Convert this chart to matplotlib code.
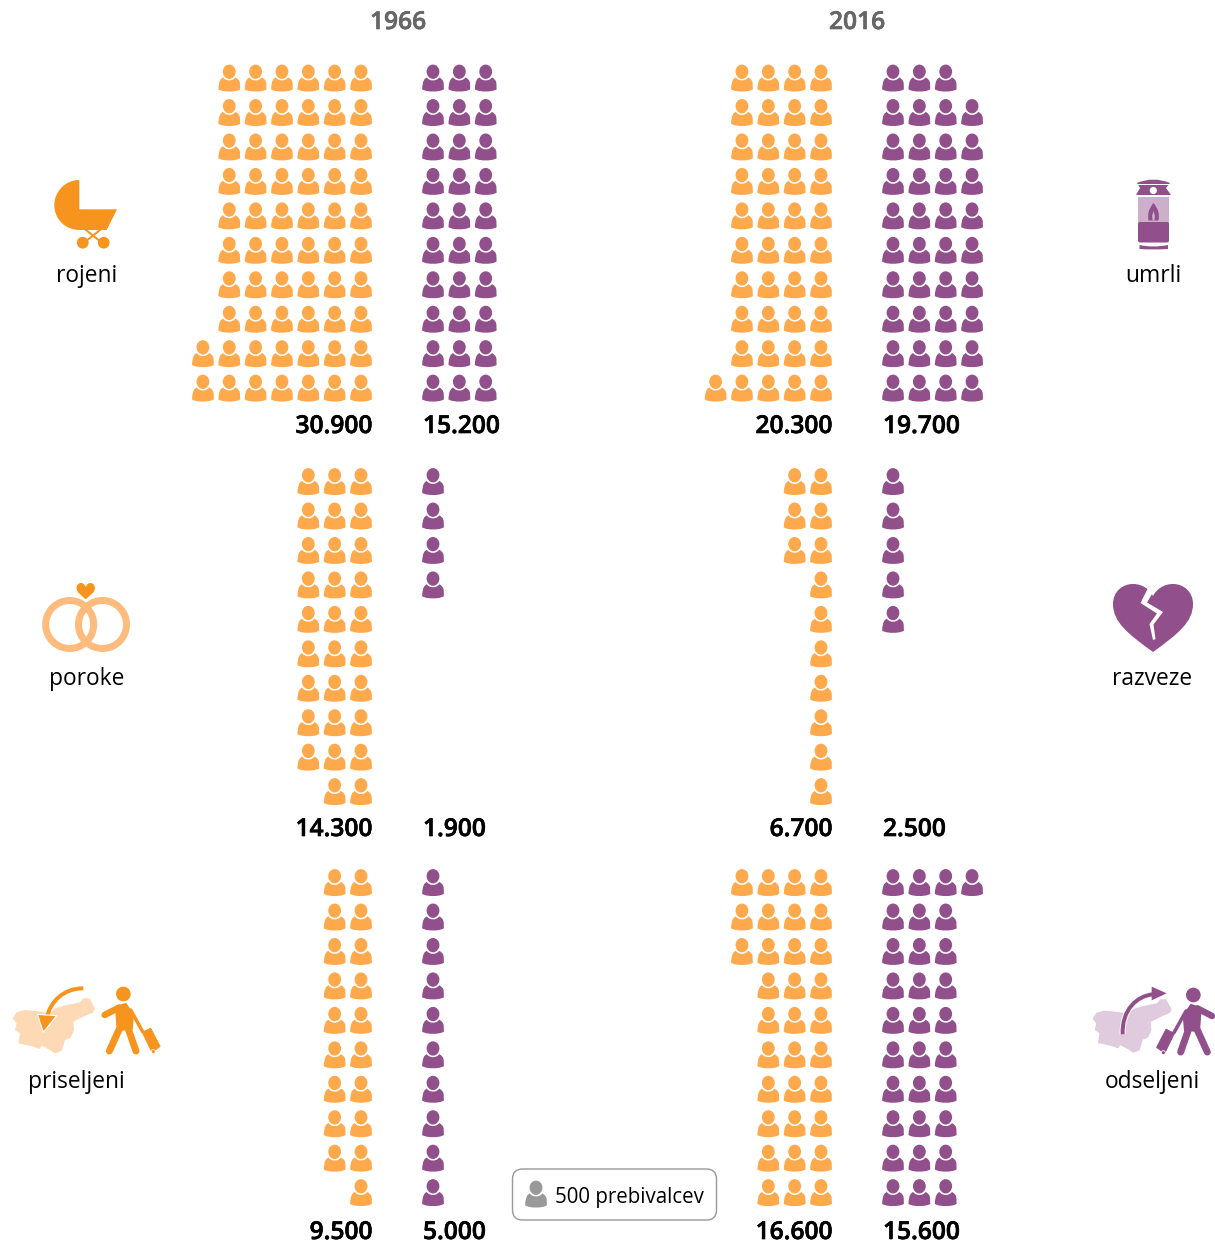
import matplotlib

matplotlib.use("Agg")
from matplotlib import pyplot as plt
from matplotlib import patheffects
from matplotlib.path import Path
from matplotlib.patches import PathPatch, Circle, Annulus, Polygon, FancyBboxPatch, Rectangle
from matplotlib.transforms import Affine2D

plt.rcParams['font.family'] = ['Open Sans', 'DejaVu Sans']

ORANGE = '#F7941D'
ORANGE_ICON = '#FDA94C'
ORANGE_LIGHT = '#FDBB7D'
ORANGE_MAP = '#FDD9B5'
PURPLE = '#91508C'
PURPLE_LIGHT = '#CDAECB'
PURPLE_MAP = '#E0CADD'

# data
years = ['1966', '2016']
left_labels = ['rojeni', 'poroke', 'priseljeni']
right_labels = ['umrli', 'razveze', 'odseljeni']
left_1966 = [30900, 14300, 9500]
right_1966 = [15200, 1900, 5000]
left_2016 = [20300, 6700, 16600]
right_2016 = [19700, 2500, 15600]
people_per_icon = 500
rows_per_column = 10

# layout, in pixels of the final picture
W, H = 1215, 1244
COL_STEP = 26.35
ROW_STEP = 34.45
block_top = [78, 481.5, 882.5]
number_y = [433, 836, 1239]
label_y = [282, 685, 1088]
left_x = [87, 87, 76]
right_x = [1153.5, 1152, 1152]
orange_x = [361, 821]
purple_x = [433, 893]
year_x = [398, 857]

# one little person, centred on 0,0 with y going down
PERSON = Path(
    [(0, -13.4), (3.7, -13.4), (6.4, -10.2), (6.4, -6.4),
     (6.4, -2.6), (3.7, 0.9), (0, 0.9), (-3.7, 0.9), (-6.4, -2.6), (-6.4, -6.4),
     (-6.4, -10.2), (-3.7, -13.4), (0, -13.4), (0, -13.4),
     (-6.3, -0.6), (-4.4, 1.7), (-2.4, 2.4), (0, 2.4),
     (2.4, 2.4), (4.4, 1.7), (6.3, -0.6),
     (8.5, 0.8), (10.4, 2.0), (10.7, 5.5), (10.9, 11.4),
     (7.0, 13.4), (3.5, 13.5), (0, 13.5),
     (-3.5, 13.5), (-7.0, 13.4), (-10.9, 11.4),
     (-10.4, 2.0), (-8.5, 0.8), (-6.3, -0.6), (-6.3, -0.6)],
    [Path.MOVETO, Path.CURVE4, Path.CURVE4, Path.CURVE4,
     Path.CURVE4, Path.CURVE4, Path.CURVE4, Path.CURVE4, Path.CURVE4, Path.CURVE4,
     Path.CURVE4, Path.CURVE4, Path.CURVE4, Path.CLOSEPOLY,
     Path.MOVETO, Path.CURVE4, Path.CURVE4, Path.CURVE4,
     Path.CURVE4, Path.CURVE4, Path.CURVE4,
     Path.CURVE4, Path.CURVE4, Path.CURVE4, Path.LINETO,
     Path.CURVE4, Path.CURVE4, Path.CURVE4,
     Path.CURVE4, Path.CURVE4, Path.CURVE4,
     Path.CURVE4, Path.CURVE4, Path.CURVE4, Path.CLOSEPOLY])

fig = plt.figure(figsize=(W / 100, H / 100), dpi=100)
ax = fig.add_axes([0, 0, 1, 1])
ax.set_xlim(0, W)
ax.set_ylim(H, 0)
ax.axis('off')


def px(v):
    # pixels to points
    return v * 0.72


def person(x, y, color, scale=1.0):
    tr = Affine2D().scale(scale).translate(x, y) + ax.transData
    ax.add_patch(PathPatch(PERSON, facecolor=color, edgecolor='none', transform=tr))


def draw_block(value, x0, direction, top, color, from_bottom):
    # columns fill up one by one, the last one may stay short
    n = round(value / people_per_icon)
    for i in range(n):
        col = i // rows_per_column
        row = i % rows_per_column
        left_in_col = n - col * rows_per_column
        if from_bottom and left_in_col < rows_per_column:
            row = rows_per_column - 1 - row
        person(x0 + direction * col * COL_STEP, top + row * ROW_STEP, color)


def heavy_text(x, y, s, ha, color):
    # semibold comes out a bit light, thicken it slightly
    t = ax.text(x, y, s, ha=ha, va='baseline', fontsize=17.7, fontweight='semibold', color=color)
    t.set_path_effects([patheffects.withStroke(linewidth=0.45, foreground=color)])


for y_i, year in enumerate(years):
    heavy_text(year_x[y_i], 29, year, 'center', '#666666')

for b in range(3):
    from_bottom = b == 0
    draw_block(left_1966[b], orange_x[0], -1, block_top[b], ORANGE_ICON, from_bottom)
    draw_block(right_1966[b], purple_x[0], 1, block_top[b], PURPLE, from_bottom)
    draw_block(left_2016[b], orange_x[1], -1, block_top[b], ORANGE_ICON, from_bottom)
    draw_block(right_2016[b], purple_x[1], 1, block_top[b], PURPLE, from_bottom)
    for vals, x, ha in [(left_1966, orange_x[0] + 11.5, 'right'),
                        (right_1966, purple_x[0] - 10, 'left'),
                        (left_2016, orange_x[1] + 11.5, 'right'),
                        (right_2016, purple_x[1] - 10, 'left')]:
        txt = '{:,}'.format(vals[b]).replace(',', '.')
        heavy_text(x, number_y[b], txt, ha, 'black')
    ax.text(left_x[b], label_y[b], left_labels[b], ha='center', va='baseline',
            fontsize=16.4, color='black')
    ax.text(right_x[b], label_y[b], right_labels[b], ha='center', va='baseline',
            fontsize=16.4, color='black')

# pram
hood = Path([(79.3, 180), (65, 180), (54.3, 192), (54.3, 205), (54.3, 219), (65, 230), (80, 230),
             (106.7, 230), (117, 209.3), (79.3, 209.3), (79.3, 180)],
            [Path.MOVETO, Path.CURVE4, Path.CURVE4, Path.CURVE4, Path.CURVE4, Path.CURVE4, Path.CURVE4,
             Path.LINETO, Path.LINETO, Path.LINETO, Path.CLOSEPOLY])
ax.add_patch(PathPatch(hood, facecolor=ORANGE, edgecolor='none'))
ax.plot([86, 101], [230, 242], color=ORANGE, lw=px(2))
ax.plot([100, 85], [230, 242], color=ORANGE, lw=px(2))
ax.add_patch(Circle((82.7, 242.7), 6.4, facecolor=ORANGE, edgecolor='white', lw=px(1)))
ax.add_patch(Circle((103.7, 242.7), 6.4, facecolor=ORANGE, edgecolor='white', lw=px(1)))

# urn
cap = Path([(1137, 183), (1153, 176), (1170, 183), (1166, 188), (1171, 195), (1136, 195), (1140, 188), (1137, 183)],
           [Path.MOVETO, Path.CURVE3, Path.CURVE3, Path.LINETO, Path.LINETO, Path.LINETO, Path.LINETO, Path.CLOSEPOLY])
ax.add_patch(PathPatch(cap, facecolor=PURPLE, edgecolor='none'))
ax.add_patch(Rectangle((1136, 184), 36, 1.0, facecolor='white', edgecolor='none'))
ax.add_patch(Circle((1153.3, 190.5), 3.6, facecolor='white', edgecolor='none'))
ax.add_patch(Rectangle((1138, 197), 31, 26, facecolor=PURPLE_LIGHT, edgecolor='none'))
ax.add_patch(FancyBboxPatch((1139, 223), 29, 18.5, boxstyle='round,pad=1,rounding_size=2',
                            facecolor=PURPLE, edgecolor='none'))
base = Path([(1139.5, 245), (1153, 248), (1168, 245), (1168, 249), (1153, 250), (1139.5, 249), (1139.5, 245)],
            [Path.MOVETO, Path.CURVE3, Path.CURVE3, Path.LINETO, Path.CURVE3, Path.CURVE3, Path.CLOSEPOLY])
ax.add_patch(PathPatch(base, facecolor=PURPLE, edgecolor='none'))
flame = Path([(1153.5, 203), (1160.5, 211), (1158.5, 220.5), (1153.5, 220.5), (1148.5, 220.5), (1146.5, 211), (1153.5, 203)],
             [Path.MOVETO, Path.CURVE3, Path.CURVE3, Path.CURVE3, Path.CURVE3, Path.CURVE3, Path.CLOSEPOLY])
ax.add_patch(PathPatch(flame, facecolor=PURPLE, edgecolor='none'))
ax.add_patch(Polygon([(1153.5, 211), (1155, 216), (1154.3, 220.5), (1152.7, 220.5), (1152, 216)],
                     facecolor=PURPLE_LIGHT, edgecolor='none'))

# rings with heart
ax.add_patch(Annulus((102.5, 624.5), 27.5, 7, facecolor=ORANGE_LIGHT, edgecolor='none'))
ax.add_patch(Annulus((69.7, 624.5), 27.5, 7, facecolor=ORANGE_LIGHT, edgecolor='none'))
heart = Path([(85.7, 600), (81, 595.5), (76, 593), (76, 588), (76, 584.5), (78.5, 582.5), (81, 582.5),
              (83.2, 582.5), (85, 584), (85.7, 586), (86.4, 584), (88.2, 582.5), (90.4, 582.5),
              (92.9, 582.5), (95.4, 584.5), (95.4, 588), (95.4, 593), (90.4, 595.5), (85.7, 600), (85.7, 600)],
             [Path.MOVETO, Path.CURVE4, Path.CURVE4, Path.CURVE4, Path.CURVE4, Path.CURVE4, Path.CURVE4,
              Path.CURVE4, Path.CURVE4, Path.CURVE4, Path.CURVE4, Path.CURVE4, Path.CURVE4,
              Path.CURVE4, Path.CURVE4, Path.CURVE4, Path.CURVE4, Path.CURVE4, Path.CURVE4, Path.CLOSEPOLY])
ax.add_patch(PathPatch(heart, facecolor=ORANGE, edgecolor='white', lw=px(1)))

# broken heart
big_heart = Path([(1153, 652), (1128, 634), (1113, 622), (1113, 604), (1113, 592), (1122, 584), (1133, 584),
                  (1143, 584), (1150, 590), (1153, 596), (1156, 590), (1163, 584), (1173, 584),
                  (1184, 584), (1193, 592), (1193, 604), (1193, 622), (1178, 634), (1153, 652), (1153, 652)],
                 [Path.MOVETO, Path.CURVE4, Path.CURVE4, Path.CURVE4, Path.CURVE4, Path.CURVE4, Path.CURVE4,
                  Path.CURVE4, Path.CURVE4, Path.CURVE4, Path.CURVE4, Path.CURVE4, Path.CURVE4,
                  Path.CURVE4, Path.CURVE4, Path.CURVE4, Path.CURVE4, Path.CURVE4, Path.CURVE4, Path.CLOSEPOLY])
ax.add_patch(PathPatch(big_heart, facecolor=PURPLE, edgecolor='none'))
ax.add_patch(Polygon([(1150, 584), (1158, 584), (1147, 602.5), (1163, 612), (1153.5, 624.5), (1155.5, 639),
                      (1153, 640), (1149.5, 624), (1157, 613.5), (1140.5, 603)],
                     facecolor='white', edgecolor='none'))

# Slovenia, in the 3x crop coordinates
SLO = [(38, 130), (50, 112), (75, 105), (105, 108), (120, 110), (150, 115), (165, 100), (200, 90),
       (240, 82), (250, 70), (268, 70), (285, 100), (280, 112), (250, 125), (220, 140), (222, 165),
       (212, 188), (195, 195), (185, 228), (165, 235), (150, 225), (125, 212), (118, 222), (100, 215),
       (70, 208), (55, 205), (60, 175), (45, 165), (50, 145)]


def walker(base_tr, color):
    ax.add_patch(Circle((370, 57), 22, facecolor=color, edgecolor='none', transform=base_tr))
    ax.add_patch(Polygon([(345, 95), (378, 83), (402, 118), (398, 165), (350, 168)],
                         facecolor=color, edgecolor='none', transform=base_tr))
    for xs, ys, w in [([358, 314], [97, 120], 6.5),
                      ([392, 428], [105, 170], 3.5),
                      ([358, 328], [162, 228], 7),
                      ([385, 408], [162, 228], 7)]:
        ax.plot(xs, ys, color=color, lw=px(w), solid_capstyle='round', transform=base_tr)
    ax.add_patch(Polygon([(427, 172), (452, 160), (480, 214), (456, 232)], closed=True,
                         facecolor=color, edgecolor=color, lw=px(1), joinstyle='round', transform=base_tr))
    ax.add_patch(Circle((460, 230), 6, facecolor=color, edgecolor='white', lw=px(0.8), transform=base_tr))


# immigration
tr_l = Affine2D().scale(1 / 3).translate(0, 975) + ax.transData
ax.add_patch(Polygon(SLO, facecolor=ORANGE_MAP, edgecolor='none', transform=tr_l))
arc_l = Path([(250, 40), (190, 40), (150, 80), (140, 130)],
             [Path.MOVETO, Path.CURVE4, Path.CURVE4, Path.CURVE4])
ax.add_patch(PathPatch(arc_l, fill=False, edgecolor=ORANGE, lw=px(4), transform=tr_l))
ax.add_patch(Polygon([(112, 118), (170, 122), (130, 172)], facecolor=ORANGE, edgecolor='white',
                     lw=px(1.2), transform=tr_l))
walker(tr_l, ORANGE)

# emigration
tr_r = Affine2D().scale(1 / 3).translate(1080, 975) + ax.transData
tr_map = Affine2D().scale(0.96, 0.97).translate(1, 5) + tr_r
ax.add_patch(Polygon(SLO, facecolor=PURPLE_MAP, edgecolor='none', transform=tr_map))
arc_r = Path([(128, 178), (125, 105), (170, 62), (220, 58)],
             [Path.MOVETO, Path.CURVE4, Path.CURVE4, Path.CURVE4])
ax.add_patch(PathPatch(arc_r, fill=False, edgecolor='white', lw=px(6), transform=tr_r))
ax.add_patch(PathPatch(arc_r, fill=False, edgecolor=PURPLE, lw=px(4), transform=tr_r))
ax.add_patch(Polygon([(215, 35), (260, 55), (215, 76)], facecolor=PURPLE, edgecolor='none', transform=tr_r))
tr_w = Affine2D().scale(-1, 1).translate(710, 3) + tr_r
walker(tr_w, PURPLE)

# legend
ax.add_patch(FancyBboxPatch((512.5, 1169), 204, 51, boxstyle='round,pad=0,rounding_size=10',
                            facecolor='white', edgecolor='#999999', lw=px(1.4)))
person(536, 1194, '#999999', 1.0)
ax.text(555, 1203, '{} prebivalcev'.format(people_per_icon), ha='left', va='baseline',
        fontsize=14.8, color='black')

fig.savefig('out.png', dpi=100)
